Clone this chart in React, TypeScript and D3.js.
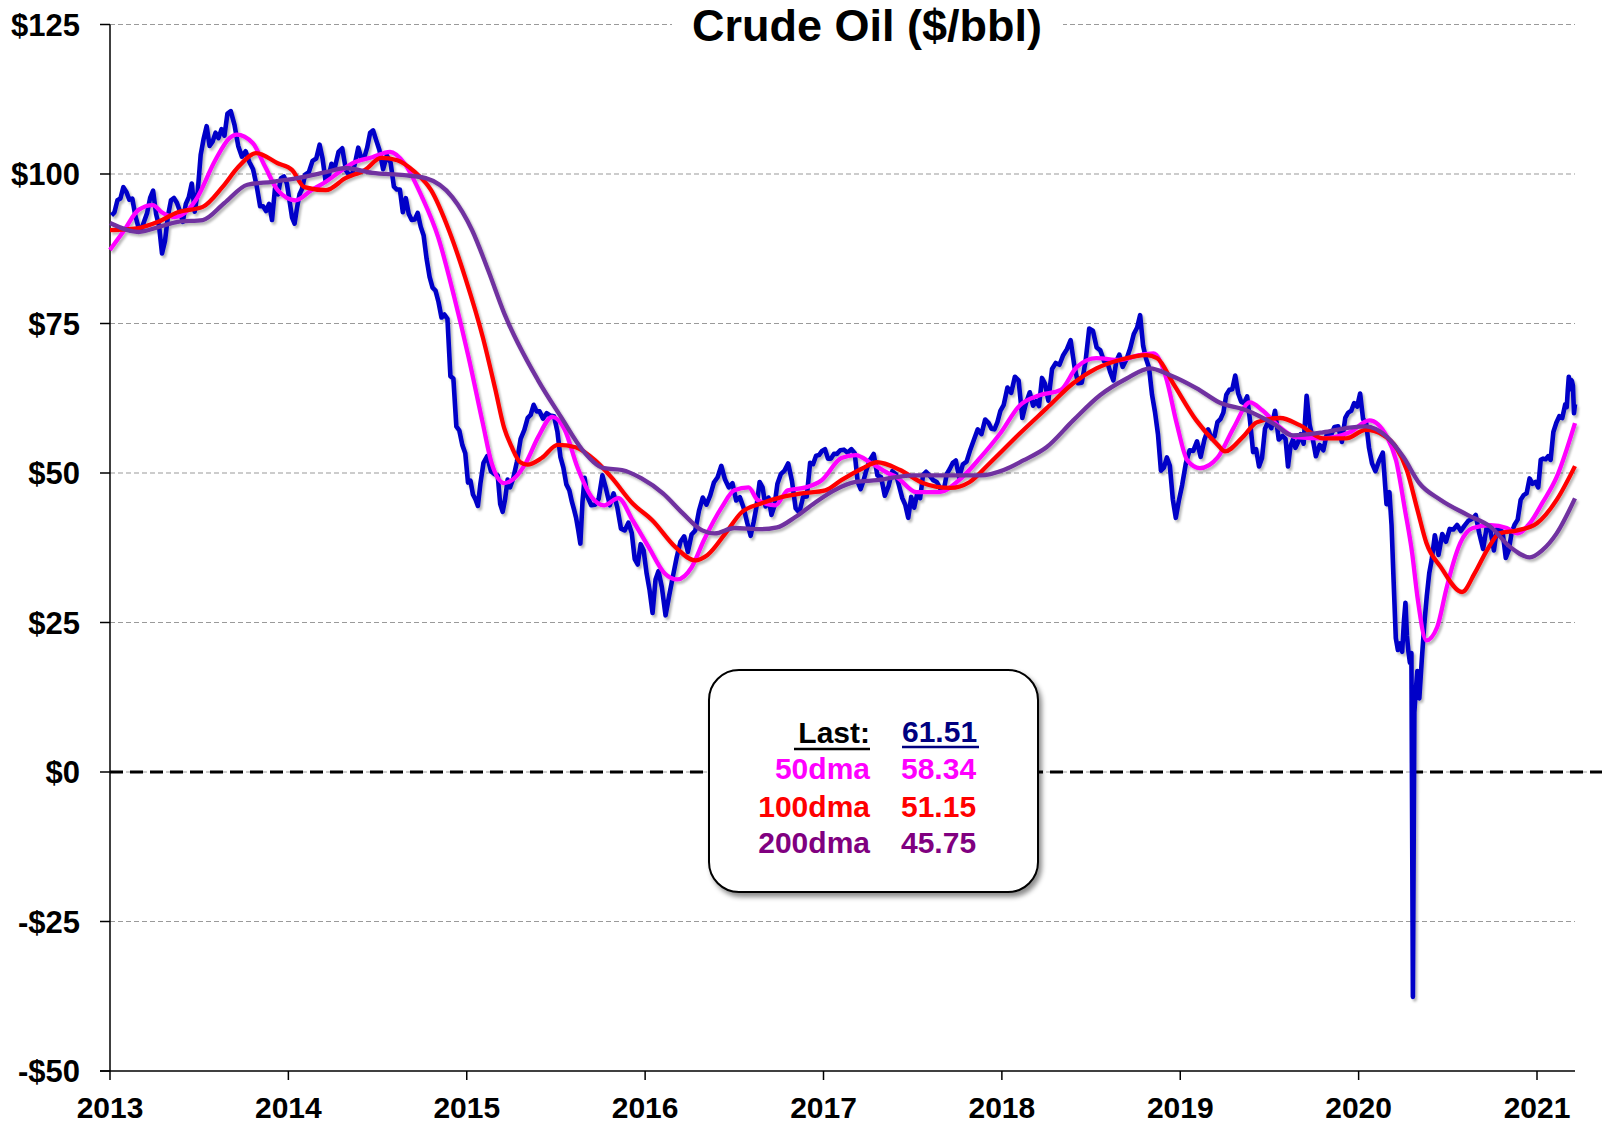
import React from 'react';
import * as d3 from 'd3';

// ---------- DATA ----------
const yearTicks = [2013, 2014, 2015, 2016, 2017, 2018, 2019, 2020, 2021];
const priceTicks = [-50, -25, 0, 25, 50, 75, 100, 125];
const endDate = 2021.213; // last observation (mid-March 2021)

// WTI weekly-ish closes, one inner array per month
const wti2013 = [
  [93.1, 93.6, 95.6, 95.9, 97.8],
  [97.0, 95.7, 95.9, 93.1, 91.2],
  [90.7, 92.1, 93.5, 96.0, 97.2],
  [93.3, 91.3, 86.7, 88.8, 93.0],
  [95.6, 96.0, 95.2, 93.8, 92.0],
  [95.0, 96.1, 98.4, 93.7, 97.0],
  [103.2, 105.9, 108.0, 104.7, 105.4],
  [106.9, 106.0, 107.5, 106.4, 110.1],
  [110.5, 108.2, 104.7, 102.9],
  [103.8, 102.0, 100.8, 97.9],
  [94.6, 94.6, 93.8, 95.0, 92.3],
  [97.6, 96.6, 99.3, 99.6, 98.4],
];
const wti2014 = [
  [95.4, 92.7, 91.7, 94.4, 96.6, 97.5],
  [99.9, 100.3, 102.2, 102.6],
  [104.9, 102.6, 98.9, 99.5, 101.7],
  [101.1, 103.7, 104.3, 100.6],
  [99.8, 100.0, 102.0, 104.4, 102.7],
  [102.7, 104.4, 106.9, 107.3, 105.7],
  [104.0, 100.8, 103.1, 101.9],
  [97.9, 97.4, 97.4, 93.6, 95.96],
  [93.3, 92.3, 92.4, 93.5, 91.2],
  [89.7, 85.8, 82.8, 81.0, 80.5],
  [78.6, 76.0, 76.5, 75.8, 66.2],
  [65.8, 57.8, 57.1, 54.7, 53.3],
];
const wti2015 = [
  [48.4, 48.7, 46.4, 45.6, 44.5, 48.2],
  [51.7, 52.8, 50.3, 49.8],
  [49.6, 44.8, 43.5, 45.7, 48.9, 47.6],
  [49.1, 51.9, 55.7, 57.2],
  [59.2, 59.7, 61.4, 60.3, 60.3],
  [59.1, 60.0, 59.6, 59.5],
  [56.9, 52.7, 50.9, 48.1, 47.1],
  [45.2, 43.9, 42.5, 40.45, 38.2, 45.2, 49.2],
  [46.0, 44.6, 44.7, 45.7],
  [49.6, 47.3, 44.6, 46.6],
  [44.3, 40.7, 40.4, 41.7],
  [39.97, 35.6, 34.7, 38.1, 37.04],
];
const wti2016 = [
  [33.2, 30.4, 26.6, 32.2, 33.6],
  [30.9, 26.2, 29.6, 32.8],
  [35.9, 38.5, 39.4, 36.8],
  [39.7, 40.4, 43.7, 45.9],
  [44.7, 46.2, 48.4, 49.3],
  [51.2, 48.9, 47.6, 48.3],
  [45.4, 45.95, 44.2, 41.6],
  [39.5, 41.8, 44.5, 48.5, 47.6],
  [44.4, 45.9, 43.0, 44.5, 48.2],
  [49.8, 50.4, 51.6, 48.7],
  [44.1, 43.4, 46.0, 46.06],
  [51.7, 51.5, 52.9, 53.0, 53.7],
];
const wti2017 = [
  [53.99, 52.4, 52.4, 53.2, 53.2],
  [53.8, 53.9, 53.4, 54.0],
  [53.3, 48.5, 47.3, 48.8, 50.6],
  [52.2, 53.2, 49.6, 49.3],
  [46.2, 47.8, 50.3, 49.8],
  [47.7, 45.8, 44.7, 42.5, 46.0],
  [44.2, 46.5, 45.8, 49.7, 50.2],
  [49.6, 48.8, 48.5, 47.3],
  [47.3, 49.9, 50.7, 51.7, 52.1],
  [49.3, 51.45, 51.9, 53.9],
  [55.6, 57.3, 56.5, 58.95],
  [58.4, 57.4, 57.3, 58.5, 60.4],
];
const wti2018 = [
  [61.4, 64.3, 63.4, 66.1],
  [65.5, 59.2, 61.7, 63.5],
  [61.25, 62.0, 61.2, 65.9, 64.9],
  [62.1, 67.4, 68.4, 68.1],
  [69.7, 70.7, 72.2, 67.9],
  [65.0, 65.1, 68.6, 74.15],
  [73.8, 71.0, 70.5, 68.7],
  [68.5, 66.8, 65.5, 68.7, 69.8],
  [67.75, 68.99, 70.8, 73.25],
  [74.34, 76.4, 71.3, 69.1, 67.6],
  [63.1, 60.2, 56.5, 50.4, 50.9],
  [52.6, 51.2, 45.6, 42.5, 45.3],
];
const wti2019 = [
  [47.96, 51.6, 53.8, 53.7],
  [55.3, 52.7, 55.6, 57.3],
  [55.8, 56.1, 58.5, 59.0, 60.1],
  [63.1, 63.9, 64.0, 66.3, 63.3],
  [61.9, 61.7, 62.8, 58.6, 53.5],
  [53.99, 51.1, 52.5, 57.4, 58.5],
  [57.5, 60.4, 55.6, 56.2],
  [55.7, 51.1, 54.5, 55.6, 54.2, 55.1],
  [56.5, 54.9, 62.9, 58.1, 55.9],
  [52.8, 54.7, 53.8, 56.7],
  [56.2, 57.7, 57.8, 55.2],
  [59.2, 60.1, 60.4, 61.7, 61.1],
];
const wti2020 = [
  [63.3, 59.0, 58.5, 54.2, 51.6],
  [50.3, 52.05, 53.4, 44.8],
  [46.8, 41.3, 31.7, 22.4, 20.4, 21.5, 20.1],
  [25.3, 28.3, 22.8, 20.1, 18.3, 19.9, -37.6, 10.0, 13.8, 16.9],
  [12.3, 18.8, 24.7, 29.4, 33.25, 35.5],
  [39.6, 36.3, 39.8, 38.5],
  [40.65, 40.55, 41.3, 40.3],
  [41.2, 42.0, 42.3, 42.97],
  [39.8, 37.3, 41.1, 40.25],
  [37.05, 40.6, 40.9, 39.85, 35.8],
  [37.1, 40.1, 41.4, 42.2, 45.5],
  [46.3, 46.6, 49.1, 48.2, 48.5],
];
const wti2021 = [
  [47.6, 52.2, 52.4, 52.3, 52.8, 52.2],
  [56.85, 58.4, 59.5, 59.2, 61.5],
  [61.0, 63.8, 66.1, 64.0, 65.6, 65.4, 64.6, 60.0, 61.5],
];
const wtiYears = [2013, 2014, 2015, 2016, 2017, 2018, 2019, 2020, 2021];
const wtiByYear = [wti2013, wti2014, wti2015, wti2016, wti2017, wti2018, wti2019, wti2020, wti2021];

// Moving averages: [decimal year, value]
const ma50: [number, number][] = [
  [2013.0, 87.3], [2013.08, 90.6], [2013.16, 94.0], [2013.24, 94.8], [2013.29, 93.6], [2013.36, 92.8],
  [2013.42, 93.5], [2013.48, 95.6], [2013.59, 102.3], [2013.67, 106.0], [2013.71, 106.6], [2013.8, 105.2],
  [2013.87, 101.2], [2013.94, 97.3], [2014.04, 95.6], [2014.13, 97.3], [2014.21, 98.7], [2014.28, 100.2],
  [2014.36, 101.8], [2014.47, 102.8], [2014.57, 103.7], [2014.65, 101.8], [2014.75, 96.1], [2014.84, 89.4],
  [2014.93, 79.4], [2015.01, 69.4], [2015.09, 58.3], [2015.14, 51.6], [2015.21, 48.3], [2015.33, 51.6],
  [2015.4, 56.0], [2015.48, 59.4], [2015.55, 57.2], [2015.62, 51.0], [2015.7, 46.0], [2015.77, 44.6],
  [2015.85, 45.8], [2015.93, 42.1], [2016.02, 37.6], [2016.11, 33.2], [2016.18, 32.2], [2016.26, 34.2],
  [2016.33, 38.8], [2016.43, 44.3], [2016.5, 47.1], [2016.58, 47.6], [2016.63, 45.5], [2016.73, 44.6],
  [2016.8, 47.1], [2016.9, 47.6], [2016.99, 48.8], [2017.1, 52.5], [2017.18, 53.0], [2017.27, 51.6],
  [2017.36, 50.0], [2017.41, 49.3], [2017.52, 46.8], [2017.65, 46.8], [2017.76, 48.8], [2017.88, 52.6],
  [2017.99, 56.6], [2018.1, 61.3], [2018.21, 63.0], [2018.33, 63.9], [2018.42, 67.7], [2018.53, 69.2],
  [2018.66, 68.9], [2018.77, 69.7], [2018.85, 70.0], [2018.92, 66.0], [2018.98, 58.3], [2019.04, 52.1],
  [2019.11, 50.8], [2019.21, 52.6], [2019.3, 57.6], [2019.39, 61.8], [2019.46, 60.5], [2019.56, 57.6],
  [2019.65, 56.0], [2019.8, 55.8], [2019.95, 56.8], [2020.06, 58.8], [2020.16, 56.0], [2020.21, 52.1],
  [2020.26, 43.8], [2020.3, 36.6], [2020.33, 29.2], [2020.38, 22.0], [2020.44, 24.2], [2020.49, 30.4],
  [2020.53, 34.9], [2020.57, 38.3], [2020.64, 40.8], [2020.74, 41.3], [2020.83, 40.8], [2020.89, 39.9],
  [2020.96, 41.6], [2021.03, 45.0], [2021.11, 49.3], [2021.213, 58.34],
];
const ma100: [number, number][] = [
  [2013.0, 90.6], [2013.15, 90.9], [2013.27, 92.0], [2013.38, 93.6], [2013.52, 94.5], [2013.63, 97.8],
  [2013.72, 101.2], [2013.82, 103.5], [2013.94, 101.8], [2014.02, 100.7], [2014.09, 97.8], [2014.21, 97.3],
  [2014.32, 99.3], [2014.43, 100.7], [2014.52, 102.7], [2014.61, 102.3], [2014.71, 100.3], [2014.8, 97.3],
  [2014.9, 90.6], [2014.99, 82.8], [2015.09, 72.7], [2015.16, 64.0], [2015.21, 57.5], [2015.25, 54.5],
  [2015.3, 51.8], [2015.34, 51.4], [2015.42, 52.5], [2015.51, 54.7], [2015.61, 54.3], [2015.72, 52.1],
  [2015.81, 49.3], [2015.93, 44.9], [2016.04, 42.1], [2016.17, 37.6], [2016.28, 35.4], [2016.35, 36.3],
  [2016.45, 39.9], [2016.54, 43.4], [2016.65, 44.9], [2016.77, 46.0], [2016.88, 46.6], [2017.01, 47.1],
  [2017.1, 48.8], [2017.22, 50.8], [2017.3, 51.8], [2017.43, 50.5], [2017.56, 48.3], [2017.71, 47.5],
  [2017.82, 48.5], [2017.93, 51.6], [2018.1, 56.6], [2018.25, 60.8], [2018.4, 65.0], [2018.53, 67.5],
  [2018.66, 68.9], [2018.81, 69.7], [2018.87, 69.2], [2018.96, 65.0], [2019.09, 58.8], [2019.21, 54.7],
  [2019.25, 53.6], [2019.35, 56.0], [2019.43, 58.5], [2019.56, 59.2], [2019.67, 58.0], [2019.8, 55.8],
  [2019.93, 55.8], [2020.04, 57.2], [2020.14, 56.3], [2020.21, 54.3], [2020.27, 50.5], [2020.33, 43.8],
  [2020.38, 38.3], [2020.46, 34.3], [2020.58, 30.1], [2020.65, 33.2], [2020.72, 37.1], [2020.79, 39.9],
  [2020.89, 40.4], [2021.0, 41.6], [2021.11, 45.5], [2021.213, 51.15],
];
const ma200: [number, number][] = [
  [2013.0, 91.8], [2013.16, 90.3], [2013.27, 91.1], [2013.38, 92.0], [2013.52, 92.3], [2013.64, 95.1],
  [2013.77, 98.2], [2013.91, 98.7], [2014.05, 99.3], [2014.21, 100.3], [2014.32, 101.0], [2014.47, 100.2],
  [2014.65, 99.8], [2014.77, 99.3], [2014.92, 96.1], [2015.03, 90.6], [2015.12, 83.9], [2015.21, 76.7],
  [2015.4, 65.5], [2015.53, 59.3], [2015.65, 53.8], [2015.77, 50.8], [2015.87, 50.5], [2015.98, 49.1],
  [2016.1, 46.6], [2016.21, 43.3], [2016.32, 40.4], [2016.39, 39.9], [2016.5, 40.8], [2016.65, 40.6],
  [2016.74, 40.9], [2016.84, 42.6], [2016.95, 45.0], [2017.06, 47.1], [2017.18, 48.5], [2017.3, 48.8],
  [2017.5, 49.6], [2017.69, 49.6], [2017.88, 49.6], [2018.01, 50.5], [2018.12, 52.1], [2018.25, 54.3],
  [2018.4, 58.8], [2018.55, 63.0], [2018.7, 65.8], [2018.83, 67.5], [2018.94, 66.4], [2019.09, 64.2],
  [2019.22, 61.8], [2019.37, 60.5], [2019.52, 58.3], [2019.63, 56.3], [2019.8, 56.8], [2019.95, 57.6],
  [2020.04, 57.8], [2020.16, 56.0], [2020.25, 52.7], [2020.34, 48.3], [2020.46, 45.5], [2020.61, 43.0],
  [2020.74, 41.0], [2020.85, 37.6], [2020.96, 35.9], [2021.03, 37.1], [2021.11, 39.9], [2021.213, 45.75],
];

const legendLabels = ['50dma', '100dma', '200dma'];
const legendValues = ['58.34', '51.15', '45.75'];
const lastValue = '61.51';

// ---------- LAYOUT ----------
const W = 1602;
const H = 1124;
const X0 = 110;
const X1 = 1575;
const YTOP = 24.5;
const YBOT = 1071;
const FONT = '"Liberation Sans", Arial, "Helvetica", sans-serif';

const C_PRICE = '#0000C8';
const C_50 = '#FF00FF';
const C_100 = '#FF0000';
const C_200 = '#7030A0';

function buildPrice(): [number, number][] {
  const out: [number, number][] = [];
  wtiByYear.forEach((months, yi) => {
    const yr = wtiYears[yi];
    months.forEach((vals, m) => {
      const isLast = yi === wtiByYear.length - 1 && m === months.length - 1;
      vals.forEach((v, i) => {
        let t: number;
        if (isLast) {
          const start = yr + m / 12;
          t = start + (i / (vals.length - 1)) * (endDate - start);
        } else {
          t = yr + (m + (i + 0.5) / vals.length) / 12;
        }
        out.push([t, v]);
      });
    });
  });
  return out;
}

export default function App() {
  const x = d3.scaleLinear().domain([2013, endDate]).range([X0, X1]);
  const y = d3.scaleLinear().domain([-50, 125]).range([YBOT, YTOP]);
  const price = buildPrice();

  const linePrice = d3.line<[number, number]>().x(d => x(d[0])).y(d => y(d[1])).curve(d3.curveLinear);
  const lineMA = d3.line<[number, number]>().x(d => x(d[0])).y(d => y(d[1])).curve(d3.curveMonotoneX);

  const legendRows = [C_50, C_100, '#800080'];
  const rowBase = [779, 817, 853];

  return (
    <svg width={W} height={H} style={{ position: 'absolute', left: 0, top: 0, background: '#fff' }}
      fontFamily={FONT}>
      <defs>
        <filter id="lshadow" x="-5%" y="-5%" width="110%" height="110%">
          <feDropShadow dx="2" dy="2.5" stdDeviation="1.3" floodColor="#000" floodOpacity="0.28" />
        </filter>
        <filter id="bshadow" x="-10%" y="-10%" width="125%" height="125%">
          <feDropShadow dx="3" dy="4" stdDeviation="2.5" floodColor="#000" floodOpacity="0.45" />
        </filter>
      </defs>
      <rect x={0} y={0} width={W} height={H} fill="#fff" />

      {/* gridlines */}
      {priceTicks.filter(t => t !== -50 && t !== 0).map(t => (
        <line key={'g' + t} x1={X0} x2={X1} y1={y(t)} y2={y(t)} stroke="#9a9a9a" strokeWidth={1.1}
          strokeDasharray="5,3" />
      ))}
      {/* zero line */}
      <line x1={X0} x2={W} y1={y(0)} y2={y(0)} stroke="#a0a0a0" strokeWidth={1} strokeDasharray="5,3" />
      <line x1={X0} x2={W} y1={y(0)} y2={y(0)} stroke="#000" strokeWidth={3} strokeDasharray="13,7" />

      {/* title */}
      <rect x={672} y={0} width={391} height={50} fill="#fff" />
      <text x={867} y={41} textAnchor="middle" fontSize={45} fontWeight="bold" fill="#000">Crude Oil ($/bbl)</text>

      {/* axes */}
      <line x1={X0} x2={X0} y1={YTOP} y2={YBOT} stroke="#000" strokeWidth={1.5} />
      <line x1={X0 - 10} x2={X1} y1={YBOT} y2={YBOT} stroke="#000" strokeWidth={1.5} />
      {priceTicks.map(t => (
        <g key={'yt' + t}>
          <line x1={X0 - 10} x2={X0} y1={y(t)} y2={y(t)} stroke="#000" strokeWidth={1.5} />
          <text x={80} y={y(t) + 11} textAnchor="end" fontSize={31} fontWeight="bold" fill="#000">
            {t < 0 ? `-$${Math.abs(t)}` : `$${t}`}
          </text>
        </g>
      ))}
      {yearTicks.map(yr => (
        <g key={'xt' + yr}>
          <line x1={x(yr)} x2={x(yr)} y1={YBOT} y2={YBOT + 9} stroke="#000" strokeWidth={1.5} />
          <text x={x(yr)} y={1118} textAnchor="middle" fontSize={30} fontWeight="bold" fill="#000">{yr}</text>
        </g>
      ))}

      {/* series */}
      <g filter="url(#lshadow)">
        <path d={linePrice(price) || ''} fill="none" stroke={C_PRICE} strokeWidth={4.6} strokeLinejoin="round" />
        <path d={lineMA(ma50) || ''} fill="none" stroke={C_50} strokeWidth={4.3} strokeLinejoin="round" />
        <path d={lineMA(ma100) || ''} fill="none" stroke={C_100} strokeWidth={4.3} strokeLinejoin="round" />
        <path d={lineMA(ma200) || ''} fill="none" stroke={C_200} strokeWidth={4.3} strokeLinejoin="round" />
      </g>

      {/* legend box */}
      <rect x={709} y={670} width={329} height={222} rx={30} ry={30} fill="#fff" stroke="#000" strokeWidth={2}
        filter="url(#bshadow)" />
      <text x={870} y={743} textAnchor="end" fontSize={30} fontWeight="bold" fill="#000">Last:</text>
      <line x1={794} x2={870} y1={749} y2={749} stroke="#000" strokeWidth={2.5} />
      <text x={902} y={742} fontSize={30} fontWeight="bold" fill="#000080">{lastValue}</text>
      <line x1={902} x2={979} y1={747} y2={747} stroke="#000080" strokeWidth={2.5} />
      {legendLabels.map((lab, i) => (
        <g key={lab}>
          <text x={870} y={rowBase[i]} textAnchor="end" fontSize={30} fontWeight="bold" fill={legendRows[i]}>{lab}</text>
          <text x={901} y={rowBase[i]} fontSize={30} fontWeight="bold" fill={legendRows[i]}>{legendValues[i]}</text>
        </g>
      ))}
    </svg>
  );
}
